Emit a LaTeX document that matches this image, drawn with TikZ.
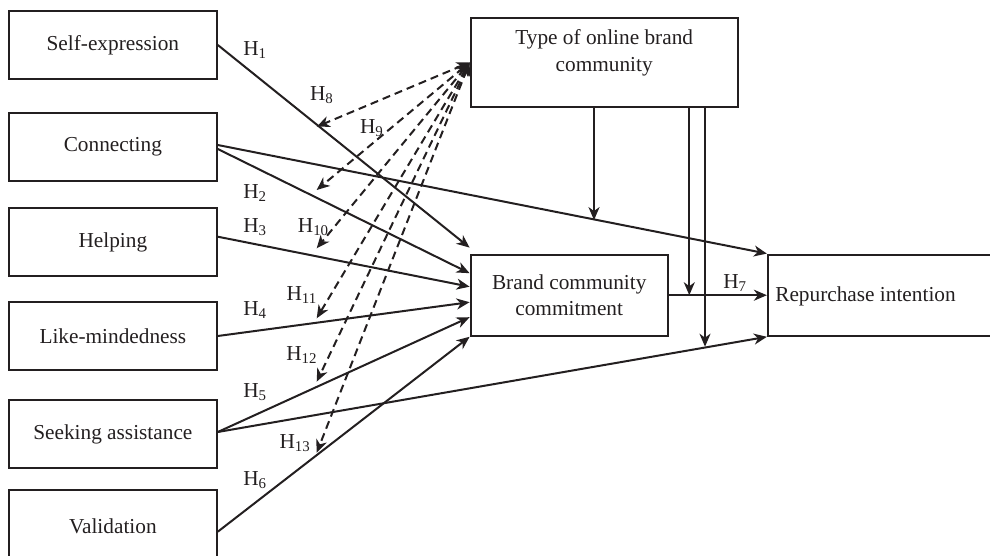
\documentclass[tikz,border=0pt]{standalone}
\usepackage{fontspec}
\setmainfont{Liberation Serif}
\usetikzlibrary{arrows.meta,calc}
\definecolor{ink}{HTML}{231F20}
\begin{document}
\begin{tikzpicture}[x=1pt,y=-1pt,
  every node/.style={font=\fontsize{21.3}{26.7}\selectfont, text=ink},
  box/.style={draw=ink, line width=2.2pt, rectangle, inner sep=0pt, align=center},
  lbox/.style={box, minimum width=207.7, minimum height=68},
  txt/.style={inner sep=0pt, align=center},
  lab/.style={inner sep=0pt},
  arr/.style={draw=ink, line width=2pt, -{Stealth[length=13pt,width=11pt,inset=4pt]}},
  darr/.style={draw=ink, line width=2pt, dash pattern=on 8pt off 5pt,
    {Stealth[length=13pt,width=11pt,inset=4pt]}-{Stealth[length=13pt,width=11pt,inset=4pt]}}]
\useasboundingbox (0,0) rectangle (990,556);

% left boxes
\node[lbox] (se) at (112.85,45)    {Self-expression};
\node[lbox] (co) at (112.85,147)   {Connecting};
\node[lbox] (he) at (112.85,242.3) {Helping};
\node[lbox] (lm) at (112.85,336)   {Like-mindedness};
\node[lbox] (sa) at (112.85,434)   {Seeking assistance};
\node[box, minimum width=207.7, minimum height=72] (va) at (112.85,526) {Validation};

% right boxes
\node[box, minimum width=267, minimum height=89] (type) at (604.2,62.5) {};
\node[txt] (typet) at (604.2,53) {Type of online brand\\community};
\node[box, minimum width=197, minimum height=81] (bcc) at (569.2,295.2) {Brand community\\commitment};
\node[box, minimum width=242, minimum height=81] (rep) at (889,295.2) {};
\node[txt] (rept) at (865.5,296) {Repurchase intention};

% direct paths
\draw[arr] (se.east) -- ([yshift=6pt]bcc.north west);
\draw[arr] ([yshift=-2pt]co.east) -- ([yshift=22pt]bcc.west);
\draw[arr] ([yshift=2pt]co.east) -- (rep.north west);
\draw[arr] ([yshift=5.6pt]he.east) -- ([yshift=8.5pt]bcc.west);
\draw[arr] (lm.east) -- ([yshift=-7pt]bcc.west);
\draw[arr] ([yshift=2pt]sa.east) -- ([yshift=-22pt]bcc.west);
\draw[arr] ([yshift=2pt]sa.east) -- (rep.south west);
\draw[arr] ([yshift=-5.7pt]va.east) -- (bcc.south west);
\draw[arr] (bcc.east) -- (rep.west);

% moderator lines
\coordinate (m1) at (594,220.1);
\coordinate (m2) at (689.3,295.2);
\coordinate (m3) at (705,346.7);
\draw[arr] (type.south -| m1) -- (m1);
\draw[arr] (type.south -| m2) -- (m2);
\draw[arr] (type.south -| m3) -- (m3);

% dashed moderator arrows
\coordinate (d8)  at (316.7,126.7);
\coordinate (d9)  at (316.7,190);
\coordinate (d10) at (316.7,248.3);
\coordinate (d11) at (316.7,318.3);
\coordinate (d12) at (316.7,381.7);
\coordinate (d13) at (316.7,452.7);
\foreach \d in {d8,d9,d10,d11,d12,d13}
  \draw[darr] (type.west) -- (\d);

% labels
\node[lab] (h1)  at (255,50)    {H\textsubscript{1}};
\node[lab] (h2)  at (255,193.3) {H\textsubscript{2}};
\node[lab] (h3)  at (255,226.7) {H\textsubscript{3}};
\node[lab] (h4)  at (255,310)   {H\textsubscript{4}};
\node[lab] (h5)  at (255,391.7) {H\textsubscript{5}};
\node[lab] (h6)  at (255,480)   {H\textsubscript{6}};
\node[lab] (h7)  at (735,283)   {H\textsubscript{7}};
\node[lab] (h8)  at (321.7,95)  {H\textsubscript{8}};
\node[lab] (h9)  at (371.7,128.3) {H\textsubscript{9}};
\node[lab] (h10) at (313.3,226.7) {H\textsubscript{10}};
\node[lab] (h11) at (301.7,295)   {H\textsubscript{11}};
\node[lab] (h12) at (301.7,355)   {H\textsubscript{12}};
\node[lab] (h13) at (295,443.3)   {H\textsubscript{13}};
\end{tikzpicture}
\end{document}
